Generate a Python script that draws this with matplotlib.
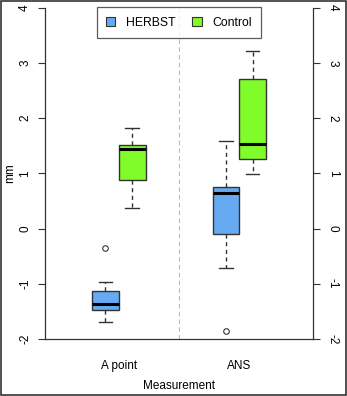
import matplotlib
matplotlib.use("Agg")
import matplotlib.pyplot as plt
from matplotlib.patches import Patch, Rectangle

plt.rcParams["font.family"] = ["Liberation Sans", "DejaVu Sans"]
plt.rcParams["axes.unicode_minus"] = False

# values (mm)
groups = ["A point", "ANS"]
series = ["HERBST", "Control"]
colors = ["#66aaf2", "#80fc2a"]

whislo = [[-1.69, -0.71], [0.38, 0.99]]
q1 = [[-1.48, -0.10], [0.87, 1.25]]
med = [[-1.36, 0.65], [1.44, 1.53]]
q3 = [[-1.14, 0.76], [1.51, 2.70]]
whishi = [[-0.97, 1.58], [1.81, 3.22]]
fliers = [[[-0.36], [-1.85]], [[], []]]

group_pos = [0, 4.5]
offsets = [-0.5, 0.5]


def main():
    fig = plt.figure(figsize=(3.47, 3.96), dpi=100)
    ax = fig.add_axes([45 / 347, 1 - 339 / 396, 268 / 347, 331.5 / 396])

    for s in range(2):
        stats = []
        pos = []
        for g in range(2):
            stats.append(dict(whislo=whislo[s][g], q1=q1[s][g], med=med[s][g],
                              q3=q3[s][g], whishi=whishi[s][g],
                              fliers=fliers[s][g]))
            pos.append(group_pos[g] + offsets[s])
        ax.bxp(stats, positions=pos, widths=1.0, patch_artist=True,
               showfliers=True, capwidths=0.5,
               boxprops=dict(facecolor=colors[s], edgecolor="#333333", lw=1),
               medianprops=dict(color="black", lw=2.2),
               whiskerprops=dict(color="#333333", lw=1, ls=(0, (3, 2.5))),
               capprops=dict(color="#333333", lw=1),
               flierprops=dict(marker="o", markersize=4, markerfacecolor="none",
                               markeredgecolor="#333333", markeredgewidth=0.8))

    ax.axvline(2.25, color="#bbbbbb", lw=0.8, ls=(0, (4, 3)))

    ax.set_xlim(-2.75, 7.25)
    ax.set_ylim(-2, 4)
    ax.set_xticks(group_pos)
    ax.set_xticklabels(groups, fontsize=8.5)
    ax.tick_params(axis="x", length=0, pad=15)
    ax.set_yticks(range(-2, 5))
    ax.tick_params(axis="y", labelsize=8.5, length=5, width=0.8, color="#333333",
                   labelright=True, right=True, direction="out", pad=5)
    for t in ax.yaxis.get_major_ticks():
        t.label1.set_rotation(90)
        t.label1.set_va("center")
        t.label2.set_rotation(-90)
        t.label2.set_va("center")

    ax.spines["top"].set_visible(False)
    for sp in ["left", "right", "bottom"]:
        ax.spines[sp].set_color("#333333")
        ax.spines[sp].set_linewidth(0.9)

    ax.set_ylabel("mm", fontsize=8.5)
    ax.yaxis.set_label_coords(-0.108, 0.5)
    ax.set_xlabel("Measurement", fontsize=8.5, labelpad=6)

    handles = [Patch(facecolor=colors[i], edgecolor="#333333", lw=0.8)
               for i in range(2)]
    leg = ax.legend(handles, series, loc="upper center", ncol=2, fontsize=8.8,
                    bbox_to_anchor=(0.5, 1.0), frameon=True, fancybox=False,
                    edgecolor="#333333", handlelength=0.75, handleheight=0.75,
                    columnspacing=1.4, borderpad=0.75, handletextpad=0.9,
                    borderaxespad=0)
    leg.get_frame().set_linewidth(0.9)

    fig.patches.append(Rectangle((0.003, 0.003), 0.994, 0.994,
                                 transform=fig.transFigure, fill=False,
                                 edgecolor="#333333", lw=1.2))

    fig.savefig("out.png", dpi=100)


if __name__ == "__main__":
    main()
